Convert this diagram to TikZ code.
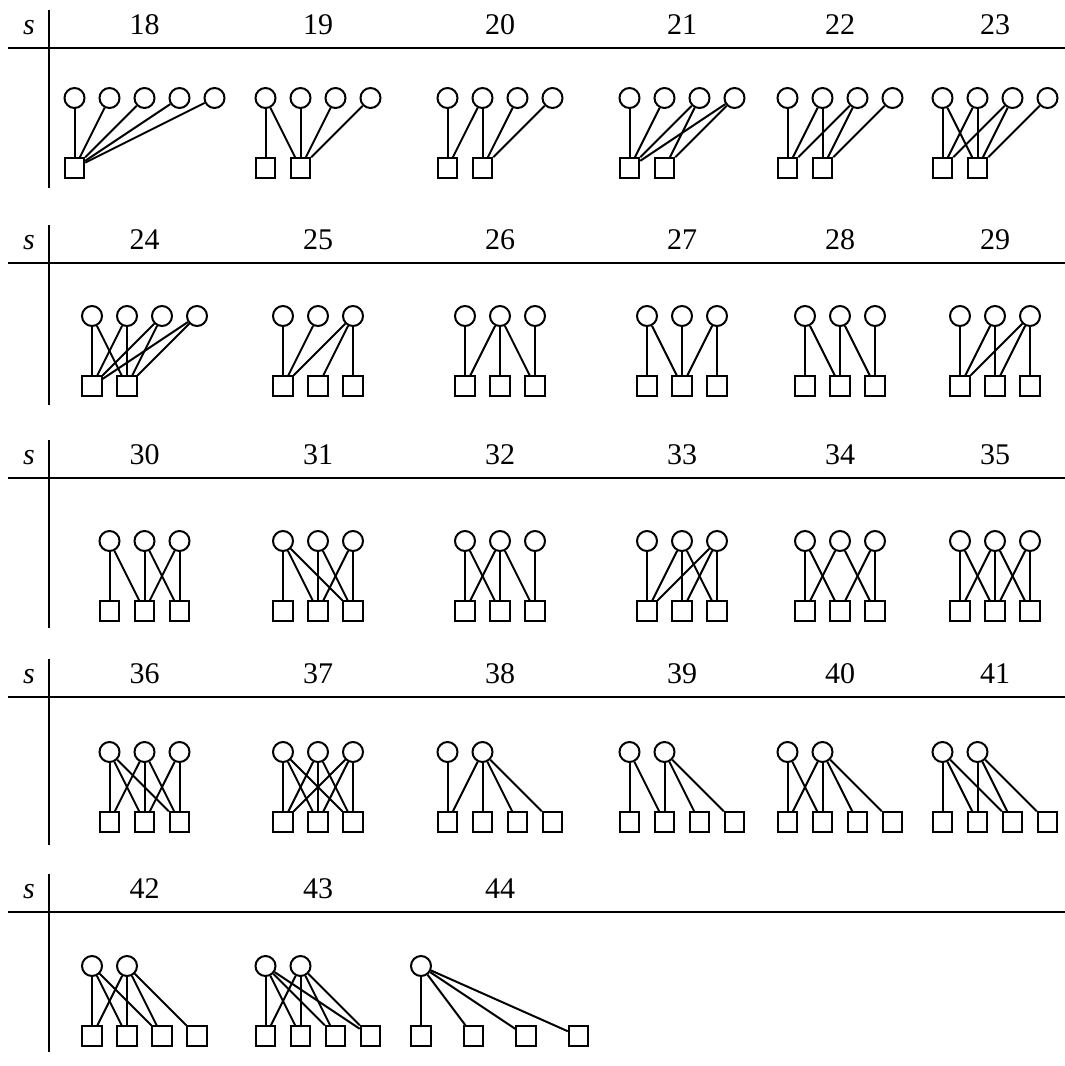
\documentclass[tikz,border=0pt]{standalone}
\usepackage{fontspec}
\setmainfont{Liberation Serif}
\usepackage{tikz}

\tikzset{
    vtx/.style={draw, circle, line width=0.8pt, minimum size=8pt, inner sep=0pt},
    fac/.style={draw, rectangle, line width=0.8pt, minimum size=7.8pt, inner sep=0pt},
    link/.style={line width=0.8pt},
    tabrule/.style={line width=0.45pt},
    lbl/.style={anchor=base, inner sep=0pt, font=\fontsize{12}{14}\selectfont},
}

% #1 name, #2 left x, #3 circle row, #4 circle slots, #5 square slots, #6 links
\newcommand{\bgraph}[6]{%
    \foreach \p [count=\i] in {#4} \node[vtx] (#1c\i) at ({#2+35*\p}, #3) {};
    \foreach \p [count=\i] in {#5} \node[fac] (#1q\i) at ({#2+35*\p}, {#3+70}) {};
    \foreach \a/\b in {#6} \draw[link] (#1c\a) -- (#1q\b);
}

\begin{document}
\begin{tikzpicture}[x=0.4pt, y=-0.4pt]
    \useasboundingbox (0,0) rectangle (1065,1066);

    % table rules, row labels and headers
    \foreach \h/\b [count=\r] in {48/188, 263/405, 478/628, 697/845, 912/1052} {
        \node[lbl] (s\r) at (29, \h-14) {\textit{s}};
        \draw[tabrule] (8,\h) -- (1065,\h);
        \draw[tabrule] (49,\h-38) -- (49,\b);
        \foreach \cx [count=\c] in {144.5, 318, 500, 682, 840, 995} {
            \pgfmathtruncatemacro{\n}{11+6*\r+\c}
            \ifnum\n<45 \node[lbl] (n\n) at (\cx, \h-14) {\n}; \fi
        }
    }

    % row 1
    \bgraph{g18}{74.5}{98}{0,1,2,3,4}{0}{1/1,2/1,3/1,4/1,5/1}
    \bgraph{g19}{265.5}{98}{0,1,2,3}{0,1}{1/1,1/2,2/2,3/2,4/2}
    \bgraph{g20}{447.5}{98}{0,1,2,3}{0,1}{1/1,2/1,2/2,3/2,4/2}
    \bgraph{g21}{629.5}{98}{0,1,2,3}{0,1}{1/1,2/1,3/1,3/2,4/1,4/2}
    \bgraph{g22}{787.5}{98}{0,1,2,3}{0,1}{1/1,2/1,2/2,3/1,3/2,4/2}
    \bgraph{g23}{942.5}{98}{0,1,2,3}{0,1}{1/1,1/2,2/1,2/2,3/1,3/2,4/2}

    % row 2
    \bgraph{g24}{92}{316}{0,1,2,3}{0,1}{1/1,1/2,2/1,2/2,3/1,3/2,4/1,4/2}
    \bgraph{g25}{283}{316}{0,1,2}{0,1,2}{1/1,2/1,3/1,3/2,3/3}
    \bgraph{g26}{465}{316}{0,1,2}{0,1,2}{1/1,2/1,2/2,2/3,3/3}
    \bgraph{g27}{647}{316}{0,1,2}{0,1,2}{1/1,1/2,2/2,3/2,3/3}
    \bgraph{g28}{805}{316}{0,1,2}{0,1,2}{1/1,1/2,2/2,2/3,3/3}
    \bgraph{g29}{960}{316}{0,1,2}{0,1,2}{1/1,2/1,2/2,3/1,3/2,3/3}

    % row 3
    \bgraph{g30}{109.5}{541}{0,1,2}{0,1,2}{1/1,1/2,2/2,2/3,3/2,3/3}
    \bgraph{g31}{283}{541}{0,1,2}{0,1,2}{1/1,1/2,1/3,2/2,2/3,3/2,3/3}
    \bgraph{g32}{465}{541}{0,1,2}{0,1,2}{1/1,1/2,2/1,2/2,2/3,3/3}
    \bgraph{g33}{647}{541}{0,1,2}{0,1,2}{1/1,2/1,2/2,2/3,3/1,3/2,3/3}
    \bgraph{g34}{805}{541}{0,1,2}{0,1,2}{1/1,1/2,2/1,2/3,3/2,3/3}
    \bgraph{g35}{960}{541}{0,1,2}{0,1,2}{1/1,1/2,2/1,2/2,2/3,3/2,3/3}

    % row 4
    \bgraph{g36}{109.5}{752}{0,1,2}{0,1,2}{1/1,1/2,1/3,2/1,2/2,2/3,3/2,3/3}
    \bgraph{g37}{283}{752}{0,1,2}{0,1,2}{1/1,1/2,1/3,2/1,2/2,2/3,3/1,3/2,3/3}
    \bgraph{g38}{447.5}{752}{0,1}{0,1,2,3}{1/1,2/1,2/2,2/3,2/4}
    \bgraph{g39}{629.5}{752}{0,1}{0,1,2,3}{1/1,1/2,2/2,2/3,2/4}
    \bgraph{g40}{787.5}{752}{0,1}{0,1,2,3}{1/1,1/2,2/1,2/2,2/3,2/4}
    \bgraph{g41}{942.5}{752}{0,1}{0,1,2,3}{1/1,1/2,1/3,2/2,2/3,2/4}

    % row 5
    \bgraph{g42}{92}{966}{0,1}{0,1,2,3}{1/1,1/2,1/3,2/1,2/2,2/3,2/4}
    \bgraph{g43}{265.5}{966}{0,1}{0,1,2,3}{1/1,1/2,1/3,1/4,2/1,2/2,2/3,2/4}
    \bgraph{g44}{421}{966}{0}{0,1.5,3,4.5}{1/1,1/2,1/3,1/4}
\end{tikzpicture}
\end{document}
